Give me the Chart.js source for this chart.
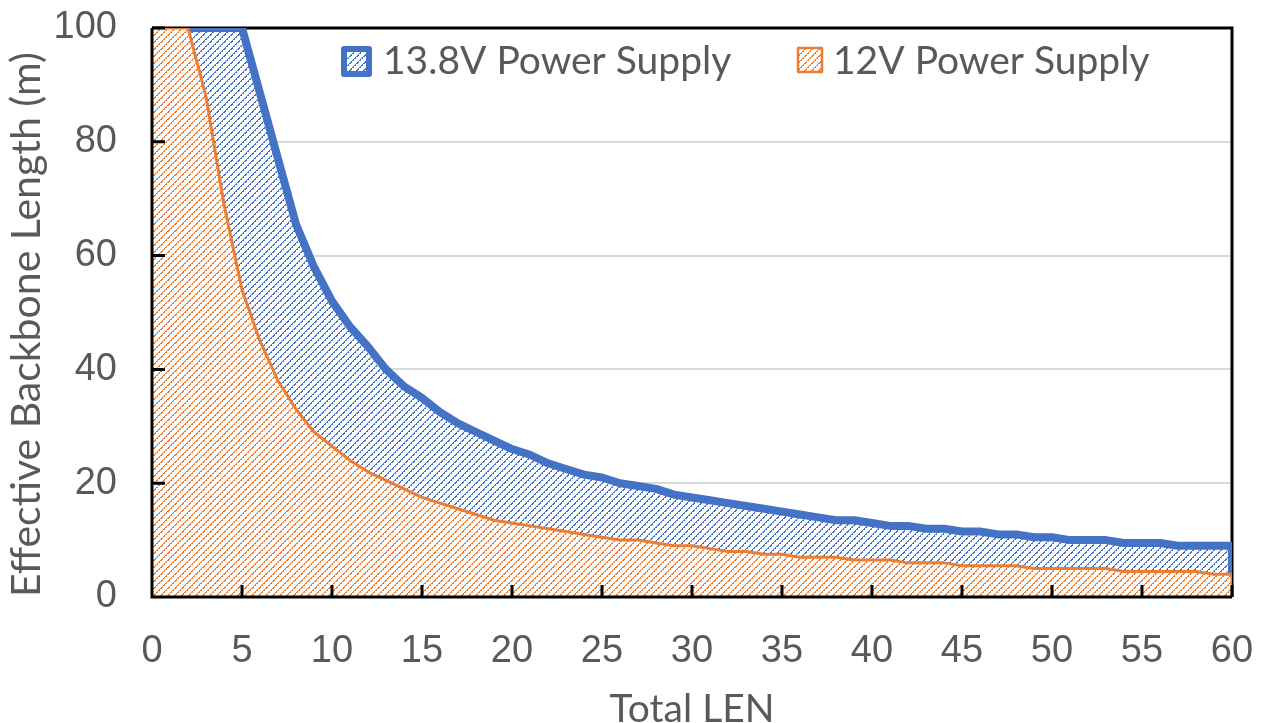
<!DOCTYPE html>
<html>
<head>
<meta charset="utf-8">
<script src="https://cdn.jsdelivr.net/npm/chart.js@4.4.0/dist/chart.umd.min.js"></script>
<style>
  html, body { margin: 0; padding: 0; background: #fff; }
</style>
</head>
<body>
<canvas id="canvasLen" width="1268" height="723"></canvas>
<script>
// values
var totalLen = [0,1,2,3,4,5,6,7,8,9,10,11,12,13,14,15,16,17,18,19,20,21,22,23,24,25,26,27,28,29,30,
                31,32,33,34,35,36,37,38,39,40,41,42,43,44,45,46,47,48,49,50,51,52,53,54,55,56,57,58,59,60];
var supply138 = [100,100,100,100,100,100,88.5,77,65.5,58,52,47.5,44,40,37,35,32.5,30.5,29,27.5,26,
                 25,23.5,22.5,21.5,21,20,19.5,19,18,17.5,17,16.5,16,15.5,15,14.5,14,13.5,13.5,13,
                 12.5,12.5,12,12,11.5,11.5,11,11,10.5,10.5,10,10,10,9.5,9.5,9.5,9,9,9,9];
var supply12 = [100,100,100,88,69,54,45,38,33,29,26.5,24,22,20.5,19,17.5,16.5,15.5,14.5,13.5,13,
                12.5,12,11.5,11,10.5,10,10,9.5,9,9,8.5,8,8,7.5,7.5,7,7,7,6.5,6.5,
                6.5,6,6,6,5.5,5.5,5.5,5.5,5,5,5,5,5,4.5,4.5,4.5,4.5,4.5,4,4];
var seriesNames = ['13.8V Power Supply', '12V Power Supply'];
var xTicks = [0,5,10,15,20,25,30,35,40,45,50,55,60];
var yTicks = [0,20,40,60,80,100];

var blueCol = '#4472C4';
var orangeCol = '#ED7D31';
var textGrey = '#595959';
var titleFont = 'Lato, "Open Sans", sans-serif';
var tickFont = '"Liberation Sans", Arial, sans-serif';

var canvas = document.getElementById('canvasLen');

var hatchCache = {};
function hatch(c, color) {
  if (hatchCache[color]) return hatchCache[color];
  var n = 7;
  var t = document.createElement('canvas');
  t.width = n; t.height = n;
  var g = t.getContext('2d');
  g.fillStyle = '#ffffff';
  g.fillRect(0, 0, n, n);
  g.fillStyle = color;
  for (var i = 0; i < n; i++) {
    g.fillRect(i, n - 1 - i, 1, 1);
    if (i % 2 === 0) g.fillRect((i + 1) % n, n - 1 - i, 1, 1);
  }
  hatchCache[color] = c.createPattern(t, 'repeat');
  return hatchCache[color];
}

function points(ys) {
  var out = [];
  for (var i = 0; i < totalLen.length; i++) out.push({x: totalLen[i], y: ys[i]});
  return out;
}

function noPad(s) {
  s.paddingTop = 0; s.paddingBottom = 0; s.paddingLeft = 0; s.paddingRight = 0;
}

var excelLook = {
  id: 'excelLook',
  beforeDatasetsDraw: function(chart) {
    var a = chart.chartArea, c = chart.ctx;
    c.save();
    c.strokeStyle = '#000';
    c.lineWidth = 3;
    c.beginPath();
    c.moveTo(a.left, a.top);
    c.lineTo(a.right, a.top);
    c.lineTo(a.right, a.bottom);
    c.stroke();
    c.restore();
  },
  afterDatasetDraw: function(chart, args) {
    // close the area outline at the right end
    var a = chart.chartArea, c = chart.ctx;
    var ds = chart.data.datasets[args.index];
    var last = args.meta.data[args.meta.data.length - 1];
    var y0 = chart.scales.y.getPixelForValue(0);
    c.save();
    c.beginPath();
    c.rect(a.left, a.top, a.right - a.left, a.bottom - a.top);
    c.clip();
    c.strokeStyle = ds.borderColor;
    c.lineWidth = ds.borderWidth;
    c.beginPath();
    c.moveTo(last.x, last.y);
    c.lineTo(last.x, y0);
    c.stroke();
    c.restore();
  },
  afterDatasetsDraw: function(chart) {
    var a = chart.chartArea, c = chart.ctx;
    var sx = chart.scales.x, sy = chart.scales.y;
    c.save();
    c.strokeStyle = '#000';
    c.lineWidth = 3;
    c.beginPath();
    c.moveTo(a.left, a.top);
    c.lineTo(a.left, a.bottom);
    c.lineTo(a.right, a.bottom);
    xTicks.forEach(function(v) {
      var px = sx.getPixelForValue(v);
      c.moveTo(px, a.bottom);
      c.lineTo(px, a.bottom - 12);
    });
    yTicks.forEach(function(v) {
      var py = sy.getPixelForValue(v);
      c.moveTo(a.left, py);
      c.lineTo(a.left + 13, py);
    });
    c.stroke();
    c.restore();
  },
  afterDraw: function(chart) {
    var c = chart.ctx;
    var sets = chart.data.datasets;
    var items = [
      {box: [344, 49, 25], text: 383, lw: 6},
      {box: [798, 48, 24], text: 833, lw: 2.5}
    ];
    c.save();
    c.font = '39px ' + titleFont;
    c.textBaseline = 'alphabetic';
    c.textAlign = 'left';
    items.forEach(function(it, i) {
      var ds = sets[i];
      var b = it.box;
      c.fillStyle = hatch(c, ds.borderColor);
      c.fillRect(b[0], b[1], b[2], b[2]);
      c.strokeStyle = ds.borderColor;
      c.lineWidth = it.lw;
      c.lineJoin = 'round';
      c.strokeRect(b[0], b[1], b[2], b[2]);
      c.fillStyle = textGrey;
      c.fillText(ds.label, it.text, 74);
    });
    c.restore();
  }
};

new Chart(canvas, {
  type: 'line',
  data: {
    datasets: [
      {
        label: seriesNames[0],
        data: points(supply138),
        borderColor: blueCol,
        borderWidth: 8,
        backgroundColor: function(context) { return hatch(context.chart.ctx, blueCol); },
        fill: 'origin',
        pointRadius: 0,
        tension: 0,
        borderJoinStyle: 'round',
        order: 2
      },
      {
        label: seriesNames[1],
        data: points(supply12),
        borderColor: orangeCol,
        borderWidth: 3,
        backgroundColor: function(context) { return hatch(context.chart.ctx, orangeCol); },
        fill: 'origin',
        pointRadius: 0,
        tension: 0,
        borderJoinStyle: 'round',
        order: 1
      }
    ]
  },
  options: {
    responsive: false,
    animation: false,
    devicePixelRatio: 1,
    layout: { padding: { top: 28, right: 36, left: 0, bottom: 0 } },
    plugins: {
      legend: { display: false },
      tooltip: { enabled: false }
    },
    scales: {
      x: {
        type: 'linear',
        min: 0,
        max: 60,
        afterBuildTicks: function(s) { s.ticks = xTicks.map(function(v) { return {value: v}; }); },
        afterFit: function(s) { s.height = 126; noPad(s); },
        grid: { display: false, drawTicks: false },
        border: { display: false },
        ticks: { color: textGrey, font: { family: tickFont, size: 38 }, padding: 32, maxRotation: 0 },
        title: {
          display: true,
          text: 'Total LEN',
          color: textGrey,
          font: { family: titleFont, size: 39, lineHeight: 0.7 },
          padding: 0
        }
      },
      y: {
        min: 0,
        max: 100,
        afterBuildTicks: function(s) { s.ticks = yTicks.map(function(v) { return {value: v}; }); },
        afterFit: function(s) { s.width = 152; noPad(s); },
        grid: { color: '#d9d9d9', lineWidth: 2, drawTicks: false },
        border: { display: false },
        ticks: { color: textGrey, font: { family: tickFont, size: 38 }, padding: 35 },
        title: {
          display: true,
          text: 'Effective Backbone Length (m)',
          color: textGrey,
          align: 'start',
          font: { family: titleFont, size: 41, lineHeight: 1.2 },
          padding: { top: 2, bottom: 0 }
        }
      }
    }
  },
  plugins: [excelLook]
});
</script>
</body>
</html>
